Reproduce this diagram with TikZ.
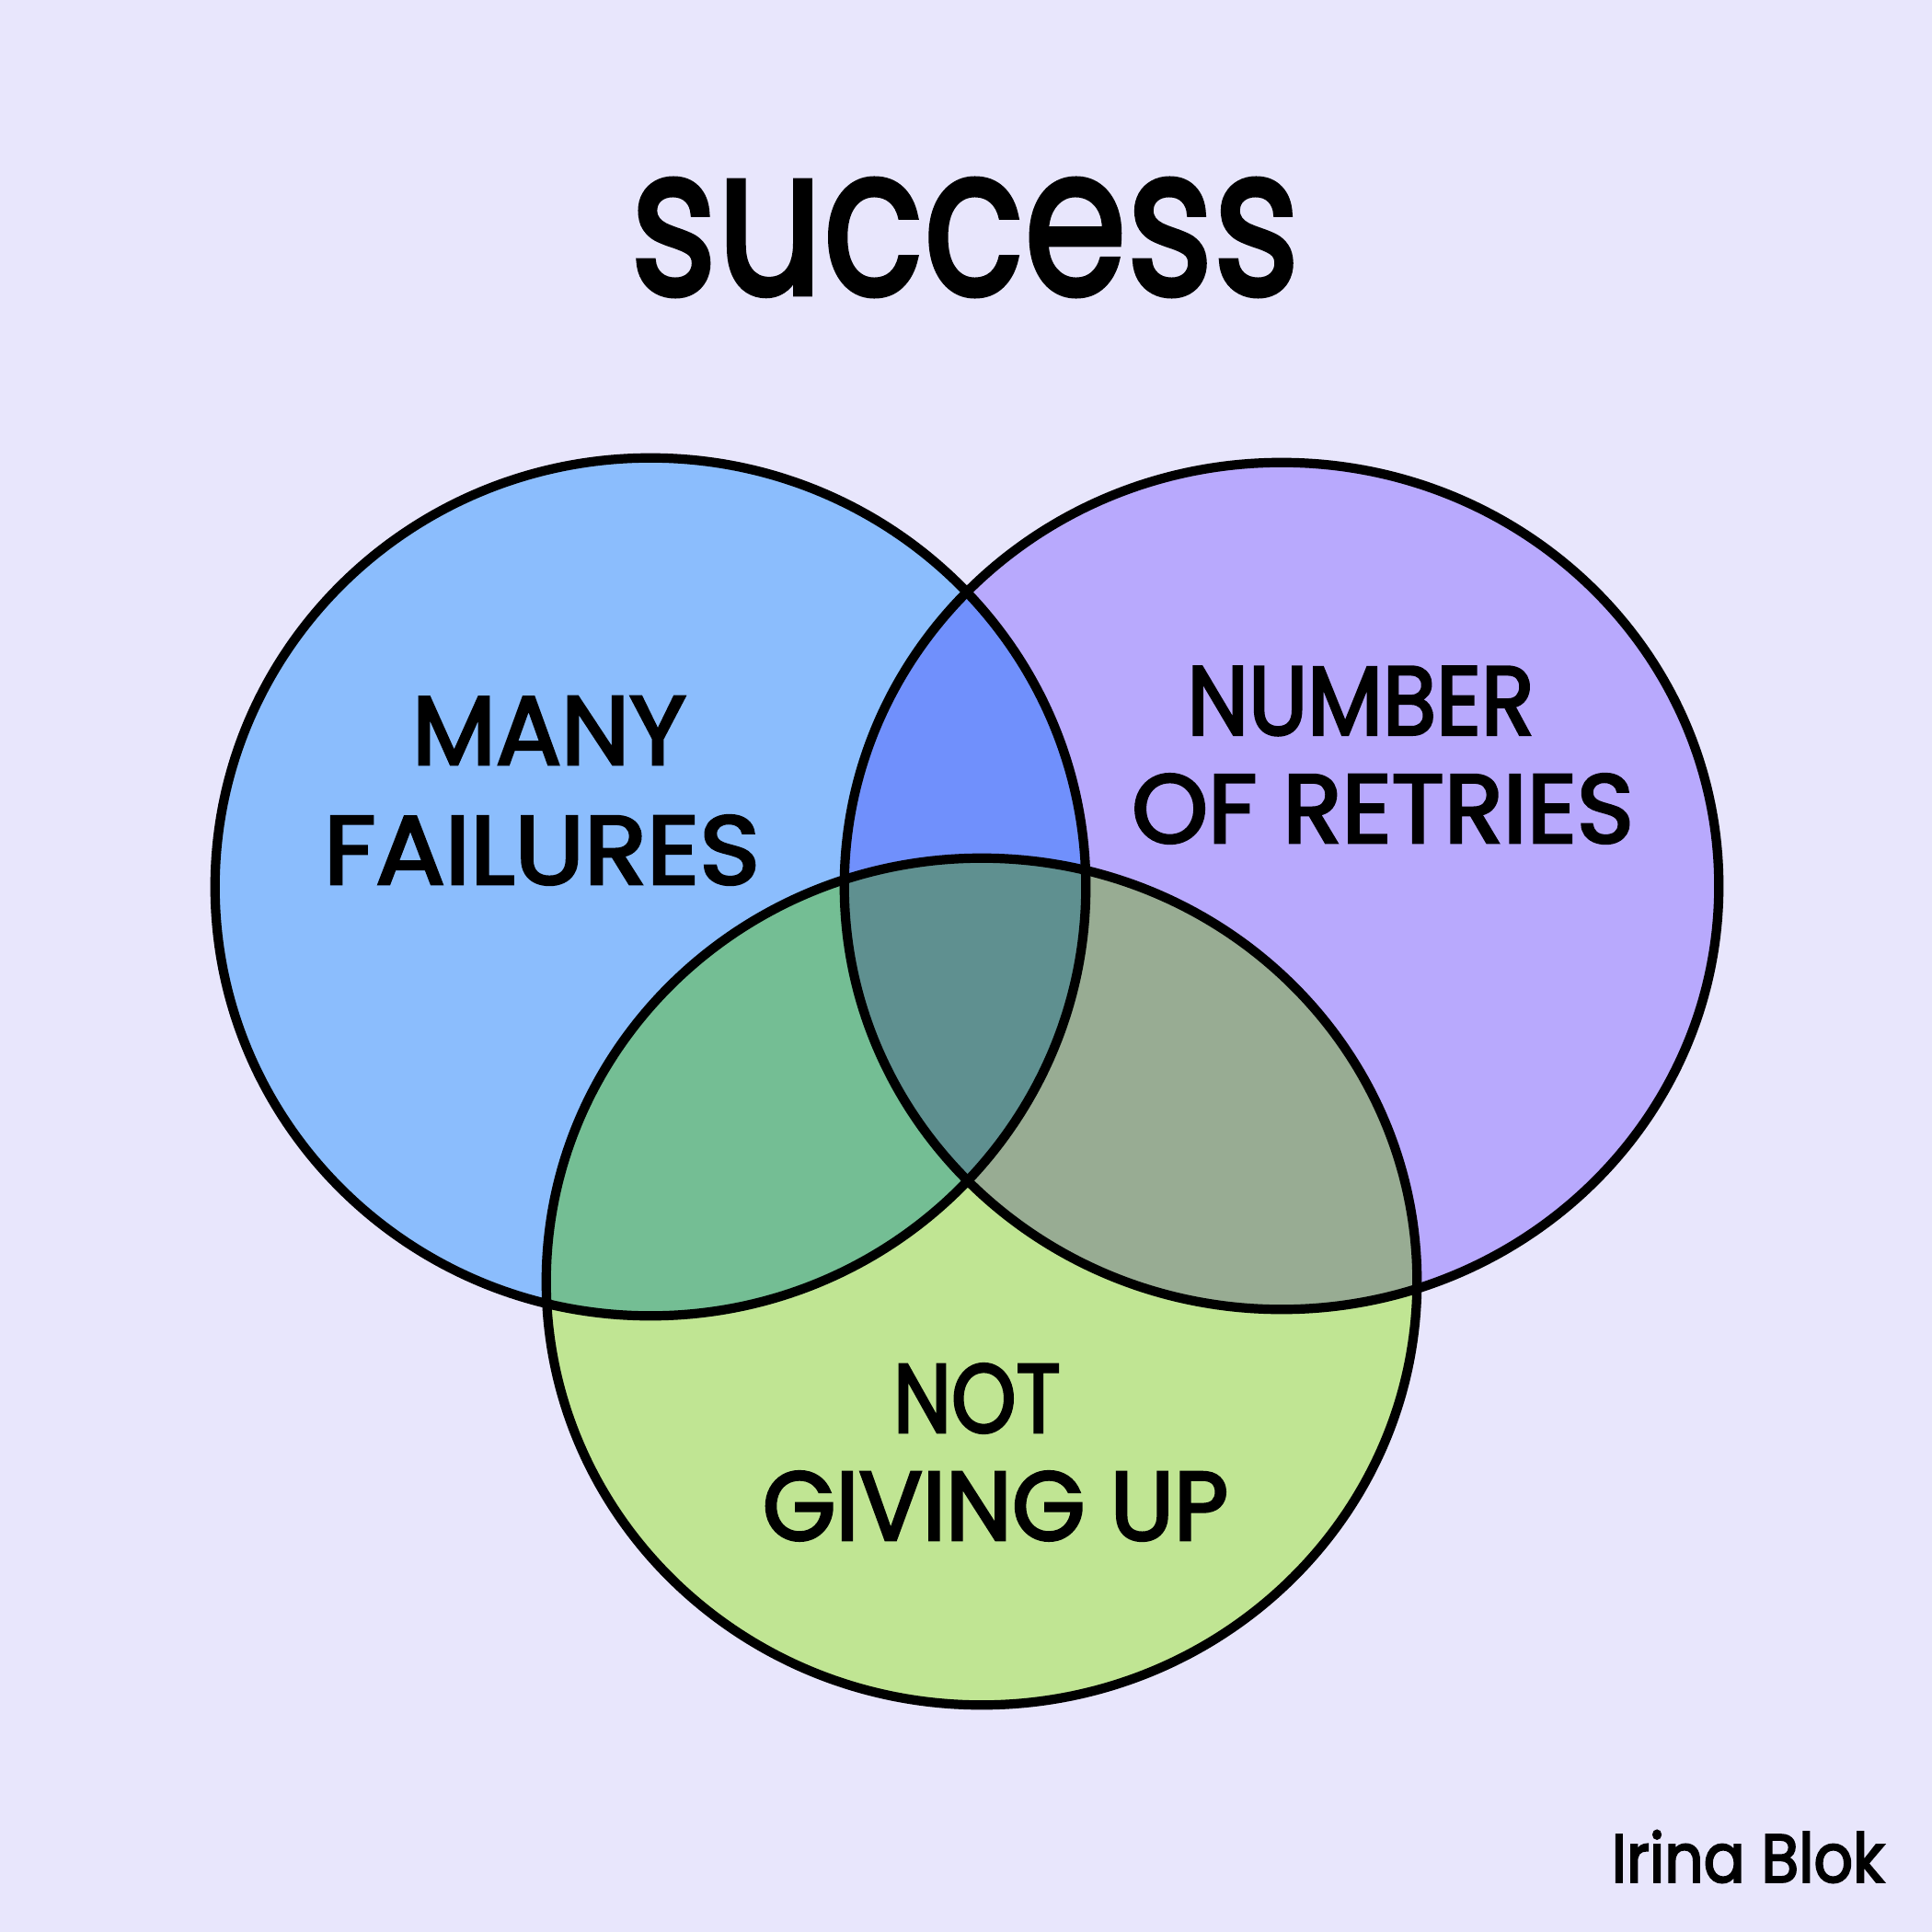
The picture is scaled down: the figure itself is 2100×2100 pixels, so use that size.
\documentclass[tikz,border=0pt]{standalone}
\usepackage{fontspec}
\setmainfont{Poppins}
\newfontfamily\handlabel{Poppins}[FakeBold=3]
\newfontfamily\handtitle{Poppins}[FakeBold=2.5]
\newfontfamily\handsign{Poppins}[FakeBold=3]
\definecolor{bg}{HTML}{E8E6FC}
\definecolor{cblue}{HTML}{8BBDFD}
\definecolor{cpurple}{HTML}{B8A9FD}
\definecolor{cgreen}{HTML}{C0E593}
\definecolor{cbp}{HTML}{7090FC}
\definecolor{cbg}{HTML}{74BE94}
\definecolor{cpg}{HTML}{98AC93}
\definecolor{call}{HTML}{5F9090}
\tikzset{
  outline/.style={draw=black, line width=2.9pt},
  label/.style={font=\handlabel\fontsize{30}{40}\selectfont, text=black, inner sep=0pt},
}
\begin{document}
\begin{tikzpicture}[x=0.01cm,y=-0.01cm]
\useasboundingbox (0,0) rectangle (2100,2100);
\fill[bg] (0,0) rectangle (2100,2100);
\def\Lc{(707,964) ellipse [x radius=4.73cm, y radius=4.66cm]}
\def\Rc{(1393,963) ellipse [x radius=4.75cm, y radius=4.60cm]}
\def\Bc{(1067,1393) ellipse [x radius=4.73cm, y radius=4.60cm]}
\fill[cblue] \Lc;
\fill[cpurple] \Rc;
\fill[cgreen] \Bc;
\begin{scope}\clip \Lc; \fill[cbp] \Rc; \end{scope}
\begin{scope}\clip \Lc; \fill[cbg] \Bc; \end{scope}
\begin{scope}\clip \Rc; \fill[cpg] \Bc; \end{scope}
\begin{scope}\clip \Lc; \clip \Rc; \fill[call] \Bc; \end{scope}
\draw[outline] \Lc;
\draw[outline] \Rc;
\draw[outline] \Bc;
\node[font=\handtitle\fontsize{64}{76}\selectfont, inner sep=0pt] (title) at (1049,258) {\scalebox{0.80}[1]{success}};
\node[label] (many) at (597,794) {MANY};
\node[label] (failures) at (589,924) {\scalebox{1.06}[1]{FAILURES}};
\node[label] (number) at (1479,762) {\scalebox{0.9}[1]{NUMBER}};
\node[label] (retries) at (1503,879) {OF RETRIES};
\node[label] (not) at (1062,1520) {\scalebox{0.85}[1]{NOT}};
\node[label] (giving) at (1082,1637) {\scalebox{0.97}[1]{GIVING UP}};
\node[font=\handsign\fontsize{21}{26}\selectfont, inner sep=0pt] (author) at (1900,2018) {\scalebox{0.9}[1]{Irina Blok}};
\end{tikzpicture}
\end{document}
